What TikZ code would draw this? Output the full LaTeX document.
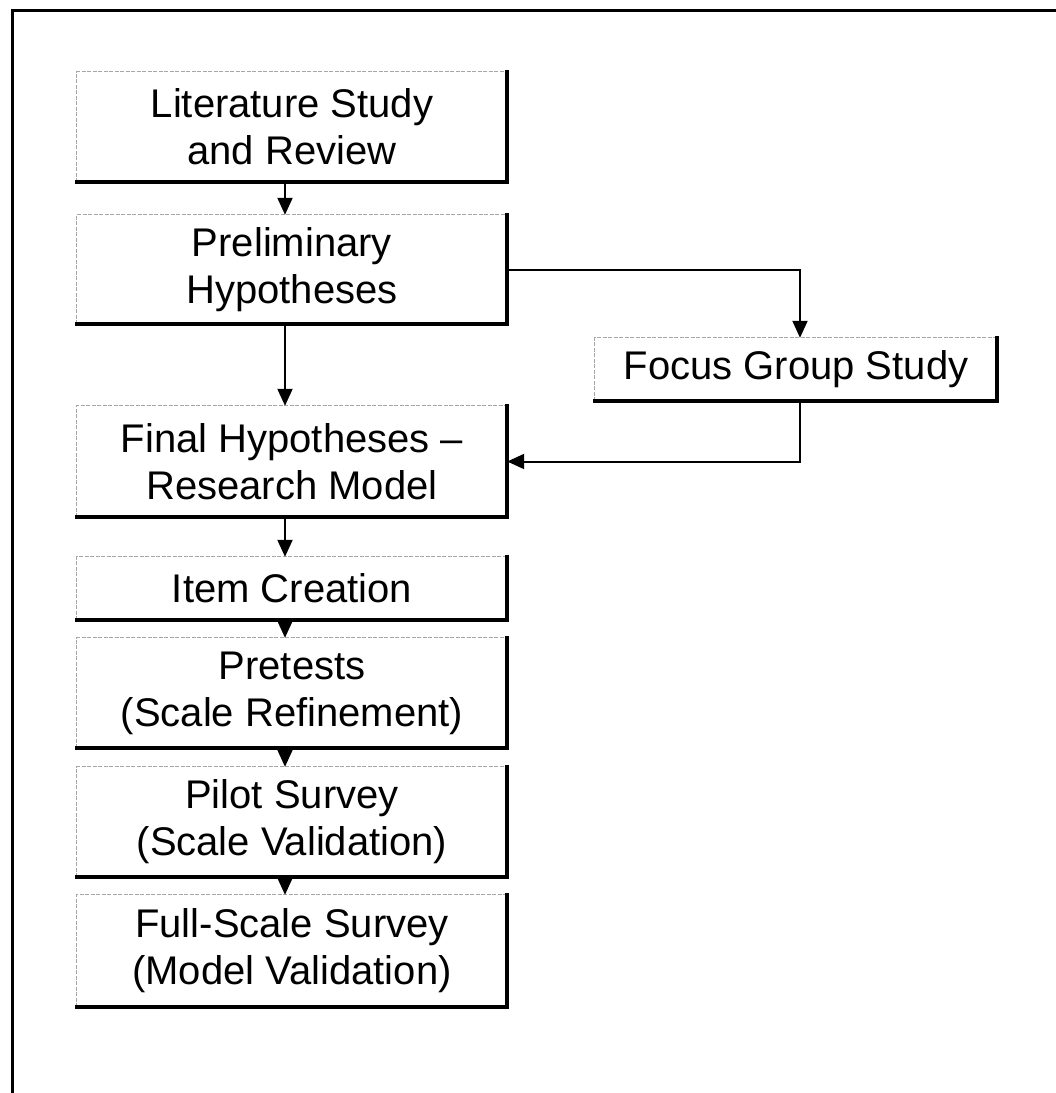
\documentclass[tikz,border=0pt]{standalone}
\usepackage{fontspec}
\setmainfont{Liberation Sans}
\usetikzlibrary{arrows.meta}
\begin{document}
\begin{tikzpicture}[x=1pt,y=-1pt,
  stepbox/.style={rectangle, inner sep=0pt, align=center,
    minimum width=430pt, font=\fontsize{40}{47}\selectfont},
  faint/.style={draw=black!35, line width=0.8pt, dash pattern=on 4pt off 1.5pt},
  shade/.style={draw=black, line width=3.5pt, line join=miter, line cap=rect},
  flow/.style={draw=black, line width=2pt, -{Triangle[length=17pt,width=15pt]}},
]
\useasboundingbox (0,0) rectangle (1056,1093);

% outer frame
\draw[line width=2.5pt] (12.5,1093) -- (12.5,10.5) -- (1056,10.5);

% process steps
\node[stepbox, minimum height=110pt] (lit)   at (292,127)   {Literature Study\\and Review};
\node[stepbox, minimum height=109pt] (pre)   at (292,269.5) {Preliminary\\Hypotheses};
\node[stepbox, minimum height=63pt, minimum width=402pt] (focus) at (796,369.5) {Focus Group Study};
\node[stepbox, minimum height=111pt] (final) at (292,461.5) {Final Hypotheses --\\Research Model};
\node[stepbox, minimum height=63pt]  (item)  at (292,588.5) {Item Creation};
\node[stepbox, minimum height=110pt] (pret)  at (292,693)   {Pretests\\(Scale Refinement)};
\node[stepbox, minimum height=110pt] (pilot) at (292,822)   {Pilot Survey\\(Scale Validation)};
\node[stepbox, minimum height=112pt] (full)  at (292,951)   {Full-Scale Survey\\(Model Validation)};

% box outlines: light top/left, heavy right/bottom
\foreach \n in {lit,pre,focus,final,item,pret,pilot,full}{
  \draw[faint] (\n.south west) -- (\n.north west) -- (\n.north east);
  \draw[shade] (\n.north east) -- (\n.south east) -- (\n.south west);
}

% connectors
\draw[flow] ([xshift=-7pt]lit.south)   -- ([xshift=-7pt]pre.north);
\draw[flow] (pre.east) -| ([xshift=4pt]focus.north);
\draw[flow] ([xshift=-7pt]pre.south)   -- ([xshift=-7pt]final.north);
\draw[flow] ([xshift=4pt]focus.south) |- (final.east);
\draw[flow] ([xshift=-7pt]final.south) -- ([xshift=-7pt]item.north);
\draw[flow] ([xshift=-7pt]item.south)  -- ([xshift=-7pt]pret.north);
\draw[flow] ([xshift=-7pt]pret.south)  -- ([xshift=-7pt]pilot.north);
\draw[flow] ([xshift=-7pt]pilot.south) -- ([xshift=-7pt]full.north);
\end{tikzpicture}
\end{document}
